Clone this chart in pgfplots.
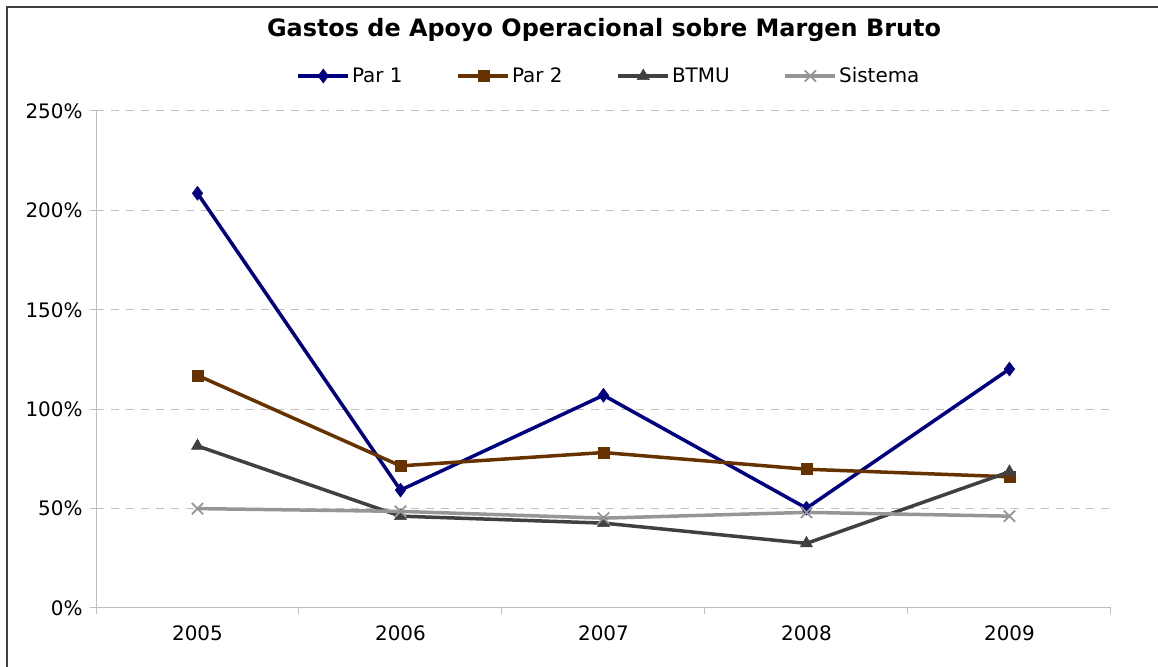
\documentclass[border=0pt]{standalone}
\usepackage{fontspec}
\setmainfont{DejaVu Sans}
\usepackage{pgfplots}
\pgfplotsset{compat=1.18}
\definecolor{parone}{RGB}{0,0,128}
\definecolor{partwo}{RGB}{102,51,0}
\definecolor{btmu}{RGB}{64,64,64}
\definecolor{sist}{RGB}{150,150,150}
\definecolor{frame}{RGB}{64,64,64}
\definecolor{gridc}{RGB}{192,192,192}
\definecolor{axisc}{RGB}{190,190,190}
\begin{document}
\begin{tikzpicture}
\useasboundingbox (0bp,0bp) rectangle (1158bp,667bp);
\draw[color=frame, line width=2bp] (7bp,0bp) -- (7bp,660bp) -- (1158bp,660bp);
\node[font=\bfseries\fontsize{24}{28}\selectfont] at (604bp,637bp) {Gastos de Apoyo Operacional sobre Margen Bruto};
\begin{axis}[
  at={(96bp,59bp)}, anchor=south west,
  scale only axis, width=1015bp, height=497bp,
  xmin=-0.5, xmax=4.5, ymin=0, ymax=250,
  xtick={0,1,2,3,4}, xticklabels={2005,2006,2007,2008,2009},
  minor xtick={-0.5,0.5,1.5,2.5,3.5,4.5},
  ytick={0,50,100,150,200,250},
  yticklabels={0\%,50\%,100\%,150\%,200\%,250\%},
  /pgf/number format/assume math mode=true,
  axis x line*=bottom, axis y line*=left,
  axis line style={color=axisc, line width=1bp},
  tick align=outside,
  major tick length=6bp, minor tick length=6bp,
  major x tick style={draw=none},
  minor x tick style={color=axisc, line width=1bp},
  y tick style={color=axisc, line width=1bp},
  ymajorgrids,
  major y grid style={color=gridc, line width=1bp, dash pattern=on 8bp off 7bp},
  ticklabel style={font=\fontsize{20}{24}\selectfont, text=black},
  xticklabel style={yshift=-8bp},
  yticklabel style={xshift=-4bp},
  clip=false,
  legend columns=4,
  legend style={draw=none, fill=none, at={(0.5054,1.0704)}, anchor=center,
    font=\fontsize{20}{24}\selectfont,
    /tikz/every even column/.append style={column sep=52bp}},
  legend image code/.code={\draw[mark repeat=2,mark phase=2,#1] plot coordinates {(0bp,0bp) (25bp,0bp) (50bp,0bp)};},
]
\addplot[color=parone, line width=3.5bp, mark=diamond*, mark size=7bp, mark options={solid, line width=0.5bp, fill=parone}]
  coordinates {(0,208.6) (1,59.3) (2,107.0) (3,50.2) (4,120.2)};
\addlegendentry{Par 1}
\addplot[color=partwo, line width=3.5bp, mark=square*, mark size=5.5bp, mark options={solid, line width=0.5bp, fill=partwo}]
  coordinates {(0,117.0) (1,71.5) (2,78.2) (3,69.8) (4,66.0)};
\addlegendentry{Par 2}
\addplot[color=btmu, line width=3.5bp, mark=triangle*, mark size=7bp, mark options={solid, line width=0.5bp, fill=btmu}]
  coordinates {(0,81.5) (1,46.2) (2,42.7) (3,32.5) (4,68.5)};
\addlegendentry{BTMU}
\addplot[color=sist, line width=3.5bp, mark=x, mark size=8bp, mark options={solid, line width=1.8bp}]
  coordinates {(0,50.0) (1,48.6) (2,45.2) (3,48.1) (4,46.2)};
\addlegendentry{Sistema}
\end{axis}
\end{tikzpicture}
\end{document}
